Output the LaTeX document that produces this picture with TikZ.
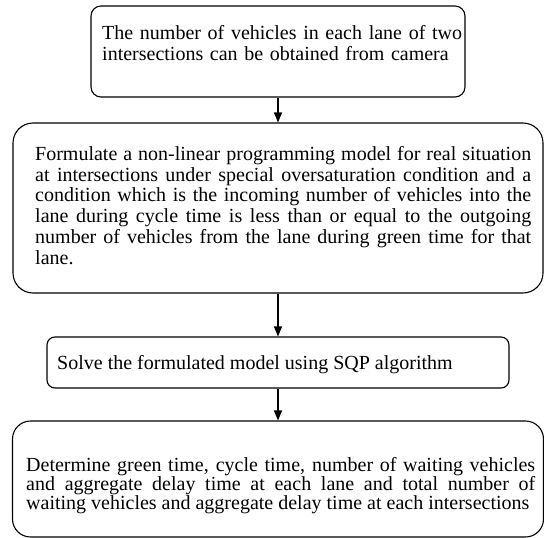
\documentclass[tikz,border=0pt]{standalone}
\usepackage{fontspec}
\setmainfont{Liberation Serif}
\usetikzlibrary{arrows.meta}
\begin{document}
\begin{tikzpicture}[x=1pt,y=-1pt,
  box/.style={draw, line width=1.1pt, inner sep=0pt},
  txt/.style={inner sep=0pt, anchor=north west},
  arr/.style={-{Triangle[length=10pt,width=8pt]}, line width=1.1pt}]
\useasboundingbox (0,0) rectangle (544,538);
\node[box, rounded corners=10pt, minimum width=374pt, minimum height=91pt] (b1) at (278,51.5) {};
\node[box, rounded corners=20pt, minimum width=530pt, minimum height=170pt] (b2) at (278,208) {};
\node[box, rounded corners=8pt, minimum width=462pt, minimum height=51pt] (b3) at (278,362.5) {};
\node[box, rounded corners=18pt, minimum width=531pt, minimum height=116pt] (b4) at (278,479) {};
\node[txt, text width=370pt, align=left, font=\fontsize{20}{21}\selectfont] (t1) at (102,25)
  {The number of vehicles in each lane of two\\intersections can be obtained from camera};
\node[txt, text width=496pt, align=justify, font=\fontsize{20}{20.8}\selectfont] (t2) at (35,146)
  {Formulate a non-linear programming model for real situation\linebreak
   at intersections under special oversaturation condition and a\linebreak
   condition which is the incoming number of vehicles into the\linebreak
   lane during cycle time is less than or equal to the outgoing\linebreak
   number of vehicles from the lane during green time for that\linebreak
   lane.};
\node[txt, font=\fontsize{20}{20}\selectfont] (t3) at (57,355)
  {Solve the formulated model using SQP algorithm};
\node[txt, text width=509pt, align=justify, font=\fontsize{20}{19}\selectfont] (t4) at (26,457)
  {Determine green time, cycle time, number of waiting vehicles\linebreak
   and aggregate delay time at each lane and total number of\linebreak
   waiting vehicles and aggregate delay time at each intersections};
\draw[arr] (b1.south) -- (b2.north);
\draw[arr] (b2.south) -- (b3.north);
\draw[arr] (b3.south) -- (b4.north);
\end{tikzpicture}
\end{document}
